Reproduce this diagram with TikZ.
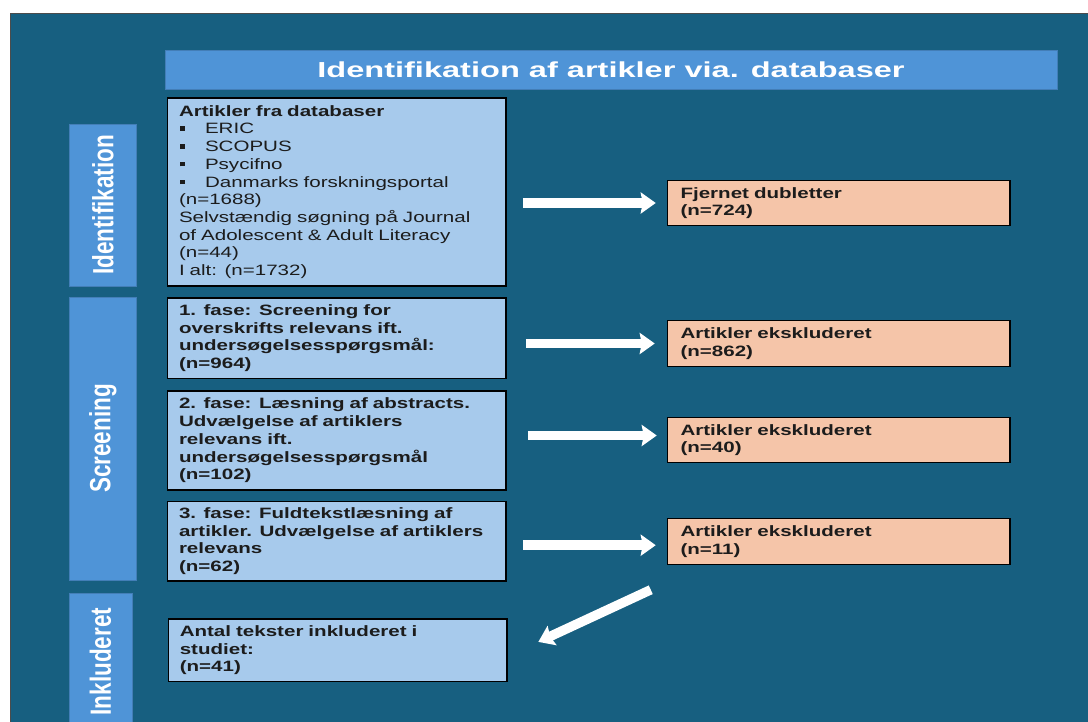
\documentclass[tikz,border=0pt]{standalone}
\usepackage{fontspec}
\usepackage{tikz}
\usetikzlibrary{arrows.meta, calc}
\newfontfamily\boxfont{Liberation Sans}[FakeStretch=1.37]
\newfontfamily\titlefont{Liberation Sans}[FakeStretch=1.5]
\newfontfamily\labelfont{Liberation Sans}
\newcommand\bodytext{\boxfont\fontsize{15}{17.7}\selectfont}
\newcommand\bul{\makebox[26pt][l]{\hspace{1pt}\rule[3pt]{4.5pt}{4.5pt}}}
\newcommand\sidelabel[1]{\scalebox{1}[1.3]{\labelfont\bfseries\fontsize{22.5}{24}\selectfont #1}}
\definecolor{bgteal}{HTML}{175F80}
\definecolor{phaseblue}{HTML}{4F94D7}
\definecolor{boxblue}{HTML}{A7CAEC}
\definecolor{exsalmon}{HTML}{F5C5A9}
\definecolor{inkdark}{HTML}{1C1C1C}

\begin{document}
\begin{tikzpicture}[x=1pt, y=-1pt,
    inbox/.style={draw=black, line width=1.5pt, fill=boxblue, inner xsep=11.5pt,
                  inner ysep=0pt, text width=315.5pt, minimum height=#1,
                  align=left, text=inkdark, font=\bodytext\bfseries},
    exbox/.style={draw=black, line width=1.5pt, fill=exsalmon, inner xsep=13pt,
                  inner ysep=0pt, text width=316.5pt, minimum height=#1,
                  align=left, text=inkdark, font=\bodytext\bfseries},
    phase/.style={fill=phaseblue, draw=phaseblue!85!black, line width=0.6pt,
                  rotate=90, inner sep=0pt, text=white},
    wharr/.style={-{Stealth[length=15pt, width=21pt, inset=2pt]}, line width=9.5pt,
                  white, shorten <=16pt, shorten >=11pt},
  ]
    \useasboundingbox (0,0) rectangle (1088,722);
    \clip (0,0) rectangle (1088,722);
    \fill[white] (0,0) rectangle (1088,722);
    \filldraw[fill=bgteal, draw=black!70, line width=1pt] (10,14) rectangle (1110,740);

    % title and side labels
    \node[phase, rotate=-90, minimum width=892pt, minimum height=39pt] (title) at (611,69.5)
      {\titlefont\bfseries\fontsize{21.7}{24}\selectfont Identifikation af artikler via. databaser};
    \node[phase, minimum width=162pt, minimum height=67.7pt] (lid) at (102.8,205) {\sidelabel{Identifikation}};
    \node[phase, minimum width=283pt, minimum height=67.7pt] (lscr) at (102.8,438.5) {\sidelabel{Screening}};
    \node[phase, minimum width=137pt, minimum height=63pt] (linc) at (100.5,661.5) {\sidelabel{Inkluderet}};

    % main column
    \node[inbox=188pt, font=\bodytext] (db) at (336.75,192)
      {\textbf{Artikler fra databaser}\\
       \bul ERIC\\
       \bul SCOPUS\\
       \bul Psycifno\\
       \bul Danmarks forskningsportal\\
       (n=1688)\\
       Selvstændig søgning på Journal\\
       of Adolescent \& Adult Literacy\\
       (n=44)\\
       I alt: (n=1732)};
    \node[inbox=80.5pt] (fase1) at (336.75,338.2)
      {1. fase: Screening for\\ overskrifts relevans ift.\\ undersøgelsesspørgsmål:\\ (n=964)};
    \node[inbox=99pt] (fase2) at (336.75,440.5)
      {2. fase: Læsning af abstracts.\\ Udvælgelse af artiklers\\ relevans ift.\\ undersøgelsesspørgsmål\\ (n=102)};
    \node[inbox=79.5pt] (fase3) at (336.75,541.2)
      {3. fase: Fuldtekstlæsning af\\ artikler. Udvælgelse af artiklers\\ relevans\\ (n=62)};
    \node[inbox=62.5pt] (antal) at (337.5,650.2)
      {Antal tekster inkluderet i\\ studiet:\\ (n=41)};

    % excluded column
    \node[exbox=45pt] (dubl) at (838.75,203) {Fjernet dubletter\\ (n=724)};
    \node[exbox=46pt] (eks1) at (838.75,343.5) {Artikler ekskluderet\\ (n=862)};
    \node[exbox=45pt] (eks2) at (838.75,440) {Artikler ekskluderet\\ (n=40)};
    \node[exbox=46pt] (eks3) at (838.75,541.5) {Artikler ekskluderet\\ (n=11)};

    \draw[wharr] (db.east |- dubl.west) -- (dubl.west);
    \draw[wharr, shorten <=19pt, shorten >=12pt] (fase1.east |- eks1.west) -- (eks1.west);
    \draw[wharr, shorten <=21pt, shorten >=10pt] ([yshift=5pt]fase2.east) -- ([yshift=5pt]fase2.east -| eks2.west);
    \draw[wharr] ([yshift=-4pt]fase3.east) -- ([yshift=-4pt]fase3.east -| eks3.west);
    \coordinate (diagtail) at ($(eks3.south west)+(-16,24.5)$);
    \draw[wharr, shorten <=0pt, shorten >=34pt] (diagtail) -- ([yshift=-6pt]antal.east);
\end{tikzpicture}
\end{document}
